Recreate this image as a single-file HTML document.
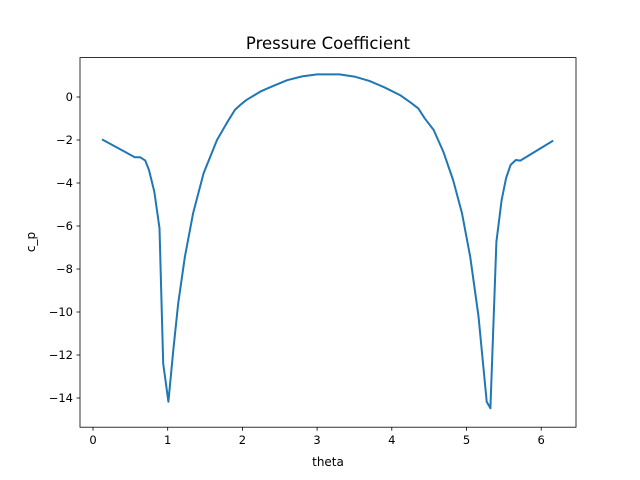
<!DOCTYPE html>
<html><head><meta charset="utf-8"><style>
body{margin:0;background:#fff}
svg{display:block;font-family:"DejaVu Sans","Liberation Sans",sans-serif}
</style></head><body>
<svg id="chart" width="640" height="480" viewBox="0 0 640 480">
<rect width="640" height="480" fill="#fff"/>
<text x="328" y="49" text-anchor="middle" font-size="16.5">Pressure Coefficient</text>
<g id="grid"></g>
<path id="line" fill="none" stroke="#1f77b4" stroke-width="2" stroke-linejoin="round"/>
<rect x="80" y="57.6" width="496" height="369.6" fill="none" stroke="#000" stroke-width="0.8"/>
<text x="328" y="466" text-anchor="middle" font-size="12">theta</text>
<text transform="translate(35,242) rotate(-90)" text-anchor="middle" font-size="12">c_p</text>
</svg>
<script>
const thetaVals=[0.12,0.56,0.63,0.70,0.75,0.82,0.89,0.94,1.01,1.075,1.14,1.23,1.34,1.48,1.66,1.79,1.90,1.97,2.05,2.24,2.4,2.6,2.8,3.0,3.14,3.3,3.5,3.7,3.9,4.11,4.25,4.355,4.44,4.56,4.69,4.82,4.94,5.05,5.16,5.27,5.32,5.40,5.47,5.53,5.59,5.66,5.72,6.16];
const cpVals=[-1.97,-2.8,-2.8,-2.96,-3.4,-4.4,-6.1,-12.4,-14.17,-11.77,-9.6,-7.43,-5.41,-3.55,-2.0,-1.22,-0.6,-0.37,-0.15,0.25,0.5,0.78,0.96,1.05,1.05,1.05,0.95,0.75,0.45,0.09,-0.25,-0.53,-0.99,-1.53,-2.54,-3.86,-5.41,-7.43,-10.2,-14.17,-14.48,-6.73,-4.8,-3.77,-3.16,-2.93,-2.96,-2.03];
const xTicks=[0,1,2,3,4,5,6];
const yTicks=[0,-2,-4,-6,-8,-10,-12,-14];
const X=v=>93+v*74.7, Y=v=>97-v*21.5;
const ns="http://www.w3.org/2000/svg", g=document.getElementById('grid');
function el(t,a){const e=document.createElementNS(ns,t);for(const k in a)e.setAttribute(k,a[k]);g.appendChild(e);return e;}
xTicks.forEach(t=>{
 const l=el('line',{x1:X(t),x2:X(t),y1:427.2,y2:430.7,stroke:'#000','stroke-width':0.8});
 
 
 const s=el('text',{x:X(t),y:444,'text-anchor':'middle','font-size':11.5});s.textContent=t;
 
 
});
yTicks.forEach(t=>{
 const l=el('line',{x1:76.5,x2:80,y1:Y(t),y2:Y(t),stroke:'#000','stroke-width':0.8});
 
 
 const s=el('text',{x:73,y:Y(t)+4,'text-anchor':'end','font-size':11.5});s.textContent=t<0?'\u2212'+(-t):t;
 
 
});
document.getElementById('line').setAttribute('d',thetaVals.map((v,i)=>(i?'L':'M')+X(v).toFixed(1)+' '+Y(cpVals[i]).toFixed(1)).join(''));
</script>
</body></html>
